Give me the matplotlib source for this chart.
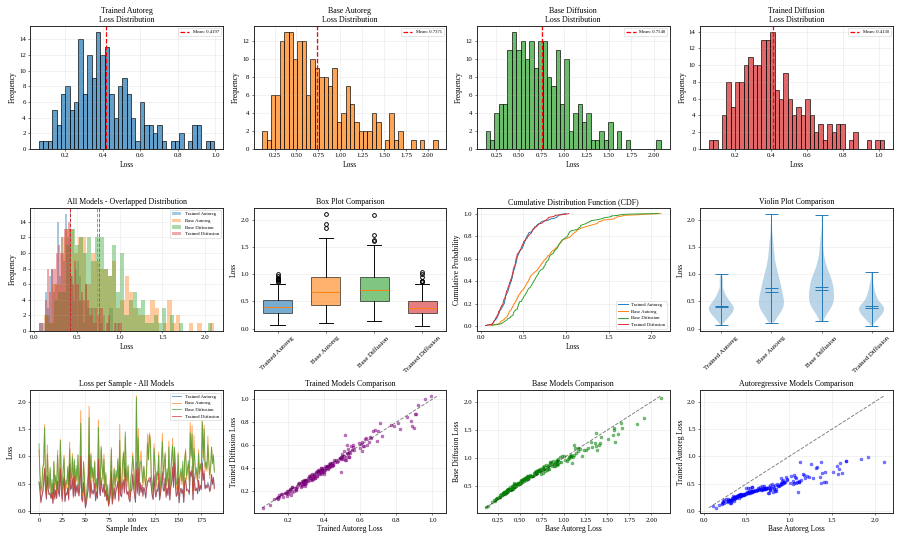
import numpy as np
import matplotlib
matplotlib.use("Agg")
import matplotlib.pyplot as plt

plt.rcParams['font.family'] = ['Liberation Serif', 'DejaVu Serif']
plt.rcParams['axes.linewidth'] = 1.5
plt.rcParams['axes.edgecolor'] = '#222222'
plt.rcParams['xtick.labelsize'] = 11
plt.rcParams['ytick.labelsize'] = 11
plt.rcParams['axes.labelsize'] = 12
plt.rcParams['axes.titlesize'] = 12.5

# per-sample losses (190 samples)
trained_autoreg = [
    0.525, 0.385, 0.17, 0.28, 0.33, 0.52, 0.77, 0.42, 0.21, 0.65,
    0.38, 0.29, 0.33, 0.22, 0.325, 0.14, 0.495, 0.24, 0.375, 0.235,
    0.54, 0.34, 0.285, 0.79, 0.39, 0.215, 0.445, 0.64, 0.165, 0.325,
    0.30, 0.425, 0.22, 0.86, 0.38, 0.43, 0.55, 0.275, 0.61, 0.275,
    0.47, 0.35, 0.515, 0.28, 0.43, 0.96, 0.215, 0.19, 0.50, 0.335,
    0.06, 0.135, 0.29, 0.40, 0.995, 0.25, 0.51, 0.33, 0.38, 0.32,
    0.50, 0.18, 0.36, 0.22, 0.92, 0.44, 0.28, 0.61, 0.38, 0.34,
    0.50, 0.26, 0.395, 0.19, 0.285, 0.10, 0.185, 0.335, 0.67, 0.12,
    0.295, 0.425, 0.23, 0.385, 0.425, 0.545, 0.20, 0.88, 0.28, 0.265,
    0.49, 0.53, 0.345, 0.89, 0.41, 0.31, 0.355, 0.24, 0.16, 0.37,
    0.39, 0.655, 0.45, 0.29, 0.15, 0.90, 0.35, 0.71, 0.275, 0.51,
    0.345, 0.465, 0.285, 0.43, 0.36, 0.245, 0.42, 0.54, 0.56, 0.525,
    0.62, 0.44, 0.30, 0.21, 0.63, 0.40, 0.255, 0.395, 0.355, 0.515,
    0.205, 0.32, 0.505, 0.72, 0.365, 0.375, 0.605, 0.27, 0.405, 0.29,
    0.60, 0.195, 0.45, 0.53, 0.81, 0.445, 0.905, 0.485, 0.26, 0.305,
    0.615, 0.145, 0.36, 0.415, 0.315, 0.40, 0.15, 0.535, 0.56, 0.375,
    0.40, 0.37, 0.32, 0.70, 0.625, 0.82, 0.20, 0.695, 0.49, 0.37,
    0.42, 0.31, 0.555, 0.365, 0.455, 0.405, 0.91, 0.565, 0.68, 0.41,
    0.475, 0.415, 0.52, 0.46, 0.37, 0.42, 0.66, 0.485, 0.595, 0.415,
]
base_autoreg = [
    1.12, 0.63, 0.32, 0.40, 0.75, 0.90, 1.58, 0.50, 0.33, 1.21,
    0.60, 0.40, 0.76, 0.26, 0.50, 0.21, 0.90, 0.41, 0.61, 0.33,
    1.11, 0.51, 0.41, 1.31, 0.62, 0.33, 0.76, 1.02, 0.27, 0.51,
    0.41, 0.77, 0.34, 1.26, 0.62, 0.52, 1.05, 0.42, 0.91, 0.34,
    0.77, 0.52, 1.01, 0.42, 0.64, 1.84, 0.35, 0.28, 0.91, 0.52,
    0.14, 0.22, 0.42, 0.65, 1.92, 0.36, 1.06, 0.53, 0.78, 0.43,
    0.92, 0.36, 0.53, 0.28, 1.67, 0.66, 0.43, 1.19, 0.78, 0.53,
    1.04, 0.36, 0.66, 0.23, 0.43, 0.11, 0.29, 0.54, 1.16, 0.18,
    0.44, 0.79, 0.37, 0.67, 0.54, 0.92, 0.30, 1.59, 0.44, 0.37,
    0.80, 1.09, 0.55, 1.37, 0.67, 0.44, 0.81, 0.37, 0.23, 0.55,
    0.68, 1.06, 0.81, 0.45, 0.31, 2.11, 0.56, 1.51, 0.38, 0.93,
    1.10, 0.68, 0.46, 0.82, 0.56, 0.38, 0.69, 1.41, 0.93, 1.43,
    1.36, 0.56, 0.46, 0.31, 1.23, 0.82, 0.38, 0.69, 0.57, 1.08,
    0.24, 0.46, 0.94, 1.42, 0.57, 0.83, 1.08, 0.39, 0.70, 0.47,
    1.28, 0.31, 0.70, 0.94, 1.33, 0.57, 1.13, 0.83, 0.39, 0.47,
    1.07, 0.32, 0.58, 0.71, 0.48, 0.84, 0.24, 0.95, 1.14, 0.58,
    0.71, 0.85, 0.48, 1.62, 0.96, 1.56, 0.32, 1.38, 0.86, 0.58,
    0.72, 0.49, 1.12, 0.59, 0.87, 0.72, 1.66, 0.97, 1.57, 0.73,
    0.87, 0.73, 1.37, 0.88, 0.59, 0.74, 1.17, 0.89, 0.98, 0.74,
]
base_diffusion = [
    1.23, 0.685, 0.385, 0.45, 0.79, 0.86, 1.53, 0.56, 0.36, 1.04,
    0.62, 0.43, 0.80, 0.30, 0.575, 0.25, 0.91, 0.49, 0.655, 0.38,
    1.02, 0.585, 0.44, 1.29, 0.675, 0.39, 0.74, 0.97, 0.31, 0.565,
    0.495, 0.82, 0.38, 1.14, 0.69, 0.595, 0.99, 0.48, 0.95, 0.41,
    0.83, 0.555, 1.03, 0.45, 0.67, 1.61, 0.40, 0.33, 0.89, 0.60,
    0.15, 0.24, 0.50, 0.68, 1.71, 0.435, 1.02, 0.61, 0.80, 0.505,
    0.90, 0.43, 0.59, 0.31, 1.53, 0.73, 0.48, 1.16, 0.85, 0.58,
    0.95, 0.43, 0.70, 0.27, 0.48, 0.13, 0.35, 0.625, 1.13, 0.21,
    0.527, 0.76, 0.44, 0.74, 0.60, 0.96, 0.34, 1.29, 0.525, 0.41,
    0.87, 1.06, 0.63, 1.45, 0.75, 0.545, 0.84, 0.44, 0.26, 0.605,
    0.73, 1.00, 0.79, 0.50, 0.375, 2.08, 0.645, 1.34, 0.43, 0.88,
    0.91, 0.75, 0.51, 0.81, 0.62, 0.45, 0.76, 1.24, 0.94, 1.38,
    1.26, 0.64, 0.53, 0.35, 1.15, 0.86, 0.44, 0.72, 0.65, 1.02,
    0.28, 0.53, 0.90, 1.27, 0.635, 0.88, 1.04, 0.45, 0.77, 0.535,
    1.17, 0.38, 0.74, 0.98, 1.19, 0.615, 1.17, 0.80, 0.485, 0.515,
    1.03, 0.39, 0.66, 0.78, 0.545, 0.91, 0.29, 0.93, 1.09, 0.64,
    0.76, 0.92, 0.55, 1.43, 1.01, 1.41, 0.38, 1.14, 0.93, 0.67,
    0.79, 0.54, 1.05, 0.68, 0.85, 0.76, 1.63, 0.92, 1.50, 0.80,
    0.90, 0.77, 1.21, 0.94, 0.66, 0.81, 1.17, 0.86, 1.03, 0.705,
]
trained_diffusion = [
    0.53, 0.393, 0.145, 0.262, 0.345, 0.50, 0.78, 0.389, 0.221, 0.632,
    0.368, 0.298, 0.305, 0.232, 0.340, 0.135, 0.498, 0.209, 0.386, 0.226,
    0.545, 0.348, 0.260, 0.77, 0.405, 0.17, 0.448, 0.60, 0.176, 0.316,
    0.288, 0.41, 0.195, 0.85, 0.402, 0.412, 0.595, 0.244, 0.632, 0.266,
    0.458, 0.318, 0.475, 0.268, 0.445, 1.00, 0.218, 0.159, 0.525, 0.326,
    0.055, 0.143, 0.265, 0.396, 1.03, 0.232, 0.55, 0.299, 0.352, 0.311,
    0.505, 0.188, 0.335, 0.236, 0.95, 0.422, 0.283, 0.548, 0.404, 0.331,
    0.488, 0.268, 0.370, 0.186, 0.300, 0.082, 0.188, 0.304, 0.72, 0.13,
    0.245, 0.415, 0.205, 0.381, 0.440, 0.535, 0.172, 0.81, 0.291, 0.256,
    0.478, 0.57, 0.320, 0.77, 0.405, 0.292, 0.358, 0.209, 0.171, 0.374,
    0.378, 0.671, 0.425, 0.286, 0.165, 0.75, 0.315, 0.79, 0.286, 0.51,
    0.333, 0.473, 0.260, 0.426, 0.375, 0.227, 0.418, 0.50, 0.582, 0.60,
    0.596, 0.448, 0.275, 0.206, 0.660, 0.349, 0.258, 0.364, 0.366, 0.69,
    0.193, 0.328, 0.48, 0.68, 0.380, 0.357, 0.611, 0.239, 0.416, 0.281,
    0.576, 0.203, 0.425, 0.522, 0.79, 0.427, 0.87, 0.485, 0.271, 0.296,
    0.591, 0.153, 0.335, 0.411, 0.330, 0.382, 0.153, 0.497, 0.605, 0.366,
    0.366, 0.378, 0.295, 0.725, 0.655, 0.74, 0.203, 0.633, 0.37, 0.378,
    0.408, 0.318, 0.56, 0.361, 0.470, 0.387, 0.87, 0.555, 0.73, 0.401,
    0.463, 0.423, 0.470, 0.456, 0.345, 0.402, 0.666, 0.49, 0.617, 0.406,
]

names = ['Trained Autoreg', 'Base Autoreg', 'Base Diffusion', 'Trained Diffusion']
colors = ['#1f77b4', '#ff7f0e', '#2ca02c', '#d62728']
data = [np.array(trained_autoreg), np.array(base_autoreg),
        np.array(base_diffusion), np.array(trained_diffusion)]

fig, axes = plt.subplots(3, 4, figsize=(902 / 45, 540 / 45), dpi=45)

# row 1: individual histograms
for i in range(4):
    ax = axes[0, i]
    ax.hist(data[i], bins=40, alpha=0.7, color=colors[i], edgecolor='black', linewidth=1.5)
    m = data[i].mean()
    ax.axvline(m, color='red', linestyle='--', linewidth=2, label=f'Mean: {m:.4f}')
    ax.set_title(f'{names[i]}\nLoss Distribution')
    ax.set_xlabel('Loss')
    ax.set_ylabel('Frequency')
    ax.legend(fontsize=7.5)
    ax.grid(True, alpha=0.3)

# overlapped
ax = axes[1, 0]
for i in range(4):
    ax.hist(data[i], bins=40, alpha=0.4, color=colors[i], label=names[i])
for i in range(4):
    ax.axvline(data[i].mean(), color=colors[i], linestyle='--', linewidth=1.5)
ax.set_title('All Models - Overlapped Distribution')
ax.set_xlabel('Loss')
ax.set_ylabel('Frequency')
ax.legend(fontsize=7.5)
ax.grid(True, alpha=0.3)

# box plot
ax = axes[1, 1]
bp = ax.boxplot(data, patch_artist=True, widths=0.6,
                boxprops=dict(linewidth=1.5), whiskerprops=dict(linewidth=1.5),
                capprops=dict(linewidth=1.5), medianprops=dict(linewidth=1.5),
                flierprops=dict(markersize=6, markeredgewidth=1.5))
for patch, c in zip(bp['boxes'], colors):
    patch.set_facecolor(c)
    patch.set_alpha(0.6)
ax.set_xticks([1, 2, 3, 4])
ax.set_xticklabels(names, rotation=45)
ax.set_title('Box Plot Comparison')
ax.set_ylabel('Loss')
ax.grid(True, alpha=0.3, axis='y')

# CDF
ax = axes[1, 2]
for i in range(4):
    s = np.sort(data[i])
    ax.plot(s, np.arange(1, len(s) + 1) / len(s), color=colors[i], linewidth=1.5, label=names[i])
ax.set_title('Cumulative Distribution Function (CDF)')
ax.set_xlabel('Loss')
ax.set_ylabel('Cumulative Probability')
ax.legend(fontsize=7.5, loc='lower right')
ax.grid(True, alpha=0.3)

# violin
ax = axes[1, 3]
vp = ax.violinplot(data, showmeans=True, showmedians=True)
ax.set_xticks([1, 2, 3, 4])
ax.set_xticklabels(names, rotation=45)
ax.set_title('Violin Plot Comparison')
ax.set_ylabel('Loss')
ax.grid(True, alpha=0.3, axis='y')

# per-sample lines
ax = axes[2, 0]
idx = np.arange(len(trained_autoreg))
for i in range(4):
    ax.plot(idx, data[i], color=colors[i], alpha=0.7, linewidth=1.5, label=names[i])
ax.set_title('Loss per Sample - All Models')
ax.set_xlabel('Sample Index')
ax.set_ylabel('Loss')
ax.legend(fontsize=7.5, loc='upper right')
ax.grid(True, alpha=0.3)

# scatter comparisons
pairs = [
    (data[0], data[3], 'purple', 'Trained Autoreg Loss', 'Trained Diffusion Loss', 'Trained Models Comparison'),
    (data[1], data[2], 'green', 'Base Autoreg Loss', 'Base Diffusion Loss', 'Base Models Comparison'),
    (data[1], data[0], 'blue', 'Base Autoreg Loss', 'Trained Autoreg Loss', 'Autoregressive Models Comparison'),
]
for k, (x, y, c, xl, yl, t) in enumerate(pairs):
    ax = axes[2, k + 1]
    ax.scatter(x, y, alpha=0.5, s=22, color=c)
    lo = min(x.min(), y.min())
    hi = max(x.max(), y.max())
    ax.plot([lo, hi], [lo, hi], 'k--', alpha=0.5, linewidth=1.5)
    ax.set_xlabel(xl)
    ax.set_ylabel(yl)
    ax.set_title(t)
    ax.grid(True, alpha=0.3)

plt.tight_layout()
plt.savefig('out.png', dpi=45)
